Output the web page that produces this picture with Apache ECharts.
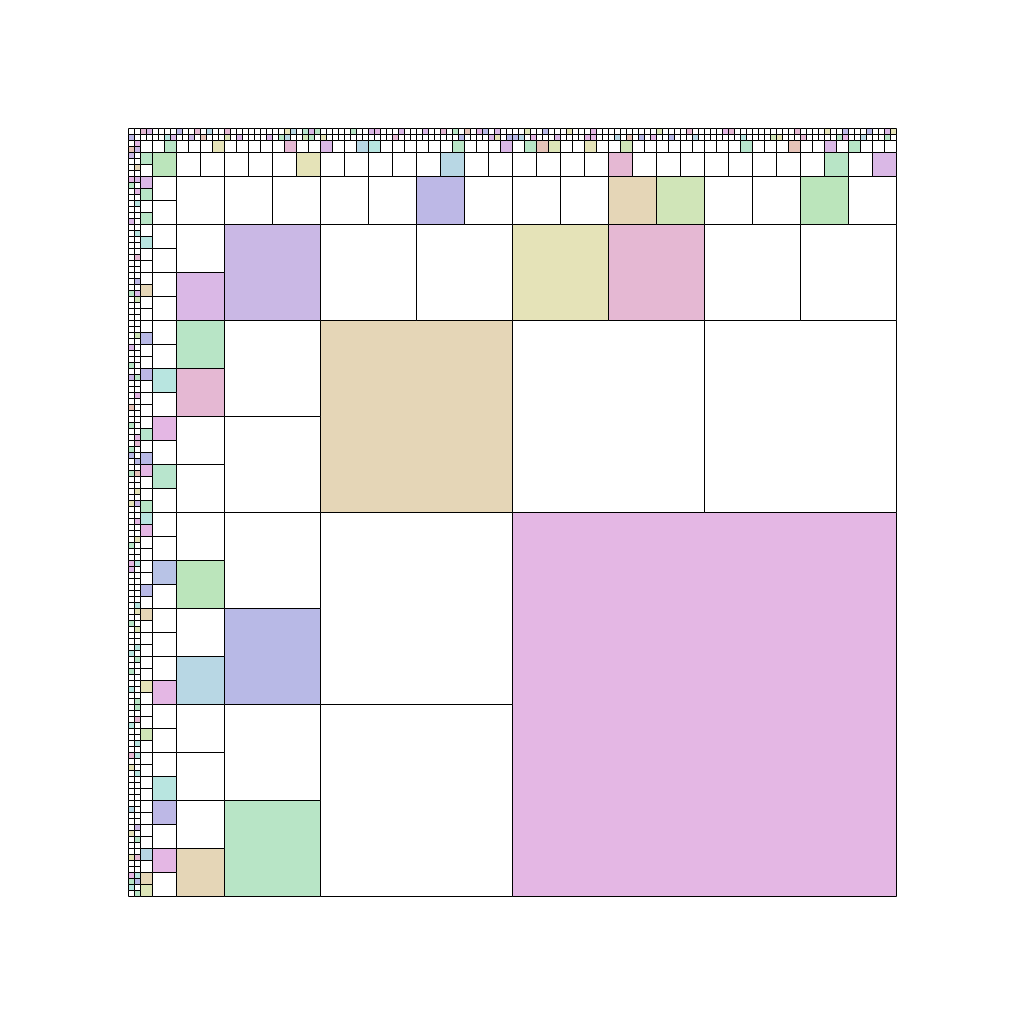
<!DOCTYPE html>
<html>
<head>
<meta charset="utf-8">
<script src="https://cdn.jsdelivr.net/npm/echarts@6/dist/echarts.min.js"></script>
<style>html,body{margin:0;padding:0;background:#fff}#main{width:1024px;height:1024px}</style>
</head>
<body>
<div id="main"></div>
<script>
// Grid side in smallest-cell units and the square sizes used (each level is an L-shaped band)
var gridSide = 128;
var levelSizes = [64, 32, 16, 8, 4, 2, 1];

// Pastel fill colours
var palette = {
  pink: '#e4b7e4', tan: '#e5d6b7', lavender: '#cab8e5', khaki: '#e5e3b8',
  rose: '#e5b8d3', blue: '#b8b9e6', green: '#b8e5c6', bluevio: '#bdb8e6',
  lgreen: '#d0e5b8', green2: '#bbe5bb', lilac: '#dab8e6', lblue: '#b8d7e4',
  cyan: '#b8e5e0', cyangreen: '#b8e5cd', blue2: '#b8c3e6', salmon: '#e5c3b8',
  lkhaki: '#dde5b8'
};

// Coloured squares per level: [x, y, colour] (x,y = top-left corner in grid units)
var level64 = [[64, 64, 'pink']];
var level32 = [[32, 32, 'tan']];
var level16 = [[16, 16, 'lavender'], [64, 16, 'khaki'], [80, 16, 'rose'], [16, 80, 'blue'], [16, 112, 'green']];
var level8 = [[48, 8, 'bluevio'], [80, 8, 'tan'], [88, 8, 'lgreen'], [112, 8, 'green2'],
  [8, 24, 'lilac'], [8, 32, 'green'], [8, 40, 'rose'], [8, 72, 'green2'], [8, 88, 'lblue'], [8, 120, 'tan']];
var level4 = [[4, 4, 'green2'], [28, 4, 'khaki'], [52, 4, 'lblue'], [80, 4, 'rose'], [116, 4, 'green'], [124, 4, 'lilac'],
  [4, 40, 'cyan'], [4, 48, 'pink'], [4, 56, 'cyangreen'], [4, 72, 'blue2'], [4, 92, 'pink'], [4, 108, 'cyan'], [4, 112, 'bluevio'], [4, 120, 'pink']];
var level2Top = [[6, 'green'], [14, 'khaki'], [26, 'rose'], [32, 'lilac'], [38, 'lblue'], [40, 'cyan'], [54, 'green'], [62, 'lilac'],
  [66, 'green'], [68, 'salmon'], [70, 'lkhaki'], [76, 'khaki'], [82, 'lgreen'], [102, 'cyangreen'], [110, 'salmon'], [116, 'lilac'], [120, 'green']];
var level2Left = [[4, 'green'], [8, 'lilac'], [10, 'green'], [14, 'green'], [18, 'cyan'], [26, 'tan'], [34, 'blue'], [40, 'bluevio'],
  [50, 'cyangreen'], [54, 'blue'], [56, 'pink'], [62, 'green'], [64, 'cyan'], [66, 'pink'], [76, 'blue'], [80, 'tan'],
  [92, 'khaki'], [100, 'lgreen'], [120, 'lblue'], [124, 'tan'], [126, 'lkhaki']];
var level1Row0 = [[2, 'rose'], [3, 'lilac'], [8, 'bluevio'], [11, 'rose'], [13, 'lblue'], [16, 'rose'], [26, 'khaki'], [27, 'lblue'],
  [29, 'cyangreen'], [30, 'lilac'], [31, 'green'], [37, 'green'], [40, 'lilac'], [41, 'pink'], [45, 'lilac'], [49, 'lilac'],
  [52, 'rose'], [54, 'green'], [56, 'salmon'], [58, 'pink'], [59, 'blue'], [61, 'lilac'], [66, 'lkhaki'], [69, 'blue'],
  [73, 'khaki'], [77, 'pink'], [88, 'lkhaki'], [93, 'rose'], [99, 'pink'], [100, 'rose'], [111, 'rose'], [116, 'khaki'],
  [119, 'bluevio'], [123, 'blue'], [126, 'lilac'], [127, 'khaki']];
var level1Row1 = [[0, 'bluevio'], [6, 'cyan'], [7, 'lilac'], [10, 'lavender'], [12, 'salmon'], [16, 'lkhaki'], [18, 'lilac'],
  [23, 'lilac'], [25, 'green'], [26, 'lblue'], [29, 'lgreen'], [30, 'green'], [32, 'khaki'], [44, 'rose'], [55, 'blue'],
  [60, 'lilac'], [61, 'khaki'], [63, 'blue'], [64, 'blue'], [65, 'lblue'], [67, 'pink'], [71, 'lilac'], [76, 'pink'],
  [77, 'pink'], [81, 'lblue'], [83, 'salmon'], [85, 'blue'], [87, 'pink'], [90, 'blue'], [94, 'lblue'], [102, 'cyan'],
  [107, 'lgreen'], [108, 'khaki'], [112, 'rose'], [118, 'green'], [119, 'pink'], [122, 'lblue'], [126, 'green']];
var level1Col0 = [[3, 'salmon'], [4, 'lavender'], [8, 'pink'], [9, 'green'], [15, 'lilac'], [27, 'green'], [36, 'lilac'],
  [39, 'green'], [41, 'lavender'], [46, 'salmon'], [49, 'green'], [53, 'green'], [54, 'blue'], [57, 'green'], [62, 'khaki'],
  [69, 'green'], [72, 'pink'], [73, 'lilac'], [82, 'green'], [87, 'cyan'], [90, 'green'], [93, 'cyan'], [99, 'cyan'],
  [104, 'rose'], [106, 'khaki'], [113, 'lblue'], [117, 'khaki'], [121, 'khaki'], [124, 'pink'], [125, 'green'], [126, 'cyan']];
var level1Col1 = [[2, 'pink'], [3, 'lavender'], [6, 'tan'], [8, 'lilac'], [10, 'pink'], [12, 'cyan'], [17, 'cyan'], [21, 'rose'],
  [25, 'bluevio'], [27, 'lilac'], [28, 'lgreen'], [34, 'lgreen'], [41, 'green'], [44, 'pink'], [51, 'pink'], [52, 'rose'],
  [55, 'blue'], [57, 'salmon'], [60, 'khaki'], [62, 'lavender'], [65, 'pink'], [68, 'khaki'], [72, 'cyan'], [79, 'cyan'],
  [80, 'khaki'], [83, 'lkhaki'], [86, 'cyan'], [88, 'green'], [95, 'green'], [96, 'green'], [98, 'rose'], [102, 'cyan'],
  [104, 'cyan'], [107, 'cyan'], [116, 'lavender'], [118, 'green'], [121, 'rose'], [124, 'cyan'], [125, 'blue'], [127, 'green']];

// Build colour lookup keyed by "size:x:y"
var colorMap = {};
function put(s, x, y, c) { colorMap[s + ':' + x + ':' + y] = palette[c]; }
[[64, level64], [32, level32], [16, level16], [8, level8], [4, level4]].forEach(function (l) {
  l[1].forEach(function (d) { put(l[0], d[0], d[1], d[2]); });
});
level2Top.forEach(function (d) { put(2, d[0], 2, d[1]); });
level2Left.forEach(function (d) { put(2, 2, d[0], d[1]); });
level1Row0.forEach(function (d) { put(1, d[0], 0, d[1]); });
level1Row1.forEach(function (d) { put(1, d[0], 1, d[1]); });
level1Col0.forEach(function (d) { put(1, 0, d[0], d[1]); });
level1Col1.forEach(function (d) { put(1, 1, d[0], d[1]); });

// Enumerate every square of the L-shaped bands
var cells = [];
levelSizes.forEach(function (s) {
  var start = s === 1 ? 0 : s;      // smallest level fills the remaining corner
  var inner = 2 * s;
  for (var y = start; y < gridSide; y += s) {
    for (var x = start; x < gridSide; x += s) {
      if (x >= inner && y >= inner) continue;
      var c = colorMap[s + ':' + x + ':' + y] || '#ffffff';
      cells.push({ value: [x, y, s], fill: c });
    }
  }
});

var chart = echarts.init(document.getElementById('main'), null, { renderer: 'canvas' });
chart.setOption({
  animation: false,
  backgroundColor: '#ffffff',
  grid: { left: 128, top: 128, width: 768, height: 768 },
  xAxis: { type: 'value', min: 0, max: gridSide, show: false },
  yAxis: { type: 'value', min: 0, max: gridSide, inverse: true, show: false },
  series: [{
    type: 'custom',
    coordinateSystem: 'cartesian2d',
    data: cells,
    clip: false,
    renderItem: function (params, api) {
      var x = api.value(0), y = api.value(1), s = api.value(2);
      var p0 = api.coord([x, y]);
      var p1 = api.coord([x + s, y + s]);
      var x0 = Math.round(Math.min(p0[0], p1[0])) + 0.5;
      var y0 = Math.round(Math.min(p0[1], p1[1])) + 0.5;
      var w = Math.round(Math.abs(p1[0] - p0[0]));
      var h = Math.round(Math.abs(p1[1] - p0[1]));
      return {
        type: 'rect',
        shape: { x: x0, y: y0, width: w, height: h },
        style: { fill: cells[params.dataIndex].fill, stroke: '#000000', lineWidth: 1 }
      };
    }
  }]
});
</script>
</body>
</html>
